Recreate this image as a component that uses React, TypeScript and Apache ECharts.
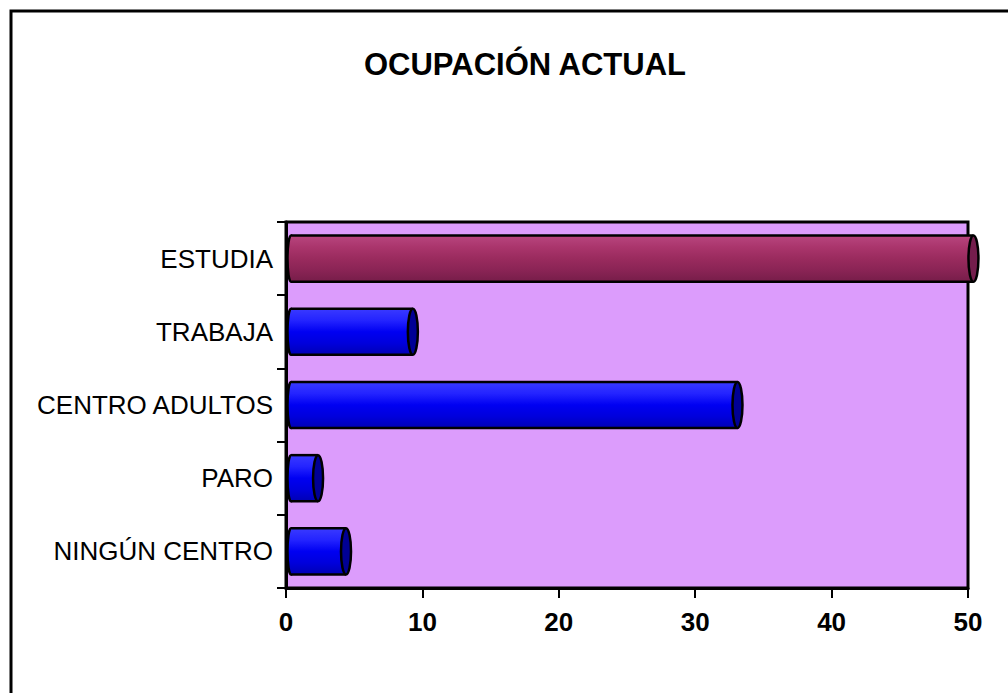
import React, { useEffect, useRef } from "react";
import * as echarts from "echarts";

const categories = ["ESTUDIA", "TRABAJA", "CENTRO ADULTOS", "PARO", "NINGÚN CENTRO"];
const values = [50.4, 9.3, 33.1, 2.35, 4.4];
const barStyle = ["maroon", "blue", "blue", "blue", "blue"];
const xTicks = [0, 10, 20, 30, 40, 50];

const palettes: Record<string, { stops: string[]; cap: string }> = {
  blue: { stops: ["#3a3aff", "#2424ff", "#0000f2", "#0000dc", "#0000b4"], cap: "#000095" },
  maroon: { stops: ["#b8467f", "#aa356c", "#9a2b5e", "#8a2455", "#761d49"], cap: "#741d4c" },
};

export default function App() {
  const ref = useRef<HTMLDivElement>(null);
  useEffect(() => {
    const chart = echarts.init(ref.current!, null, { renderer: "svg" });
    const font = "'Liberation Sans', Arial, sans-serif";
    chart.setOption({
      animation: false,
      title: {
        text: "OCUPACIÓN ACTUAL",
        left: 520,
        top: 44,
        textAlign: "center",
        textStyle: { fontFamily: font, fontWeight: "bold", fontSize: 31, color: "#000" },
      },
      graphic: [
        {
          type: "rect",
          shape: { x: 11, y: 11, width: 1010, height: 700 },
          style: { fill: "none", stroke: "#000", lineWidth: 3 },
          silent: true,
        },
      ],
      grid: {
        left: 286,
        right: 40,
        top: 222,
        bottom: 105,
        show: true,
        backgroundColor: "#dc9cfc",
        borderColor: "#000",
        borderWidth: 3,
      },
      xAxis: {
        type: "value",
        min: 0,
        max: 50,
        interval: 10,
        splitLine: { show: false },
        axisLine: { show: true, lineStyle: { color: "#000", width: 3 } },
        axisTick: { show: true, length: 10, lineStyle: { color: "#000", width: 2 } },
        axisLabel: {
          margin: 21,
          fontFamily: font,
          fontWeight: "bold",
          fontSize: 26,
          color: "#000",
          formatter: (v: number) => (xTicks.includes(v) ? String(v) : ""),
        },
      },
      yAxis: {
        type: "category",
        data: categories,
        inverse: true,
        axisLine: { show: true, lineStyle: { color: "#000", width: 3 } },
        axisTick: { show: true, length: 9, lineStyle: { color: "#000", width: 2 } },
        axisLabel: { margin: 13, fontFamily: font, fontSize: 26, color: "#000" },
      },
      series: [
        {
          type: "custom",
          clip: false,
          data: values.map((v, i) => [v, i]),
          encode: { x: 0, y: 1 },
          renderItem: (params: any, api: any) => {
            const v = api.value(0);
            const idx = api.value(1);
            const p0 = api.coord([0, idx]);
            const p1 = api.coord([v, idx]);
            const band = api.size([0, 1])[1];
            const h = band * 0.63;
            const yTop = p0[1] - h / 2;
            const yBot = p0[1] + h / 2;
            const rx = 5;
            const pal = palettes[barStyle[params.dataIndex]];
            const n = pal.stops.length;
            const grad = new echarts.graphic.LinearGradient(
              0, 0, 0, 1,
              pal.stops.map((c, k) => ({ offset: k / (n - 1), color: c }))
            );
            const x0 = p0[0] + 5;
            const x1 = p1[0];
            return {
              type: "group",
              children: [
                {
                  type: "ellipse",
                  shape: { cx: x0, cy: p0[1], rx: 3.5, ry: h / 2 },
                  style: { fill: grad, stroke: "#000", lineWidth: 2.5 },
                },
                {
                  type: "rect",
                  shape: { x: x0, y: yTop, width: x1 - x0, height: h },
                  style: { fill: grad, stroke: "none" },
                },
                {
                  type: "line",
                  shape: { x1: x0, y1: yTop, x2: x1, y2: yTop },
                  style: { stroke: "#000", lineWidth: 2.5 },
                },
                {
                  type: "line",
                  shape: { x1: x0, y1: yBot, x2: x1, y2: yBot },
                  style: { stroke: "#000", lineWidth: 2.5 },
                },
                {
                  type: "ellipse",
                  shape: { cx: x1, cy: p0[1], rx, ry: h / 2 },
                  style: { fill: pal.cap, stroke: "#000", lineWidth: 2.5 },
                },
              ],
            };
          },
        },
      ],
    });
    return () => chart.dispose();
  }, []);
  return <div ref={ref} style={{ position: "absolute", left: 0, top: 0, width: 1008, height: 693 }} />;
}
